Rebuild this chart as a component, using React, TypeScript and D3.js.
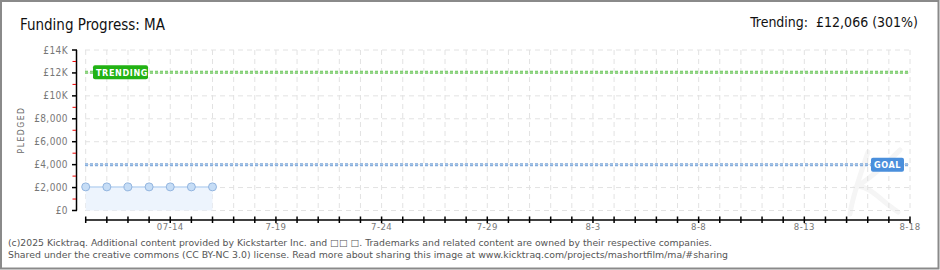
import React from "react";
import * as d3 from "d3";

const pledgeDates = ["2025-07-10", "2025-07-11", "2025-07-12", "2025-07-13", "2025-07-14", "2025-07-15", "2025-07-16"];
const pledgeValues = [2060, 2060, 2060, 2060, 2060, 2060, 2060];
const goalValue = 4000;
const trendingValue = 12066;
const startDate = "2025-07-10";
const endDate = "2025-08-18";
const xLabelDates = ["2025-07-14", "2025-07-19", "2025-07-24", "2025-07-29", "2025-08-03", "2025-08-08", "2025-08-13", "2025-08-18"];
const xLabelTexts = ["07-14", "7-19", "7-24", "7-29", "8-3", "8-8", "8-13", "8-18"];
const yTickValues = [0, 2000, 4000, 6000, 8000, 10000, 12000, 14000];
const yTickLabels = ["£0", "£2,000", "£4,000", "£6,000", "£8,000", "£10K", "£12K", "£14K"];
const yMinorValues = [1000, 3000, 5000, 7000, 9000, 11000, 13000];
const titleText = "Funding Progress: MA";
const trendText = "Trending:  £12,066 (301%)";
const footer1 = "(c)2025 Kicktraq. Additional content provided by Kickstarter Inc. and \u25A1\u25A1 \u25A1. Trademarks and related content are owned by their respective companies.";
const footer2 = "Shared under the creative commons (CC BY-NC 3.0) license. Read more about sharing this image at www.kicktraq.com/projects/mashortfilm/ma/#sharing";

const W = 940;
const H = 270;
const parse = d3.utcParse("%Y-%m-%d");

export default function App() {
  const x = d3.scaleUtc().domain([parse(startDate)!, parse(endDate)!]).range([85.7, 910]);
  const y = d3.scaleLinear().domain([0, 14000]).range([210.5, 50]);
  const days = d3.utcDay.range(parse(startDate)!, d3.utcDay.offset(parse(endDate)!, 1));
  const pts = pledgeDates.map((d, i) => ({ x: x(parse(d)!), y: y(pledgeValues[i]) }));
  const area = d3.area<{ x: number; y: number }>().x((d) => d.x).y0(y(0)).y1((d) => d.y);
  const line = d3.line<{ x: number; y: number }>().x((d) => d.x).y((d) => d.y);
  const font = "'DejaVu Sans Condensed', 'DejaVu Sans', sans-serif";
  const x0 = 85;
  const x1 = 910;

  return (
    <svg width={W} height={H} style={{ position: "absolute", left: 0, top: 0, background: "#fff" }} fontFamily={font}>
      <rect x={1} y={1} width={W - 2.5} height={H - 2.5} fill="#fff" stroke="#8a8a8a" strokeWidth={2} />
      {/* watermark (faint script K) */}
      <path d="M 868 152 C 860 175, 852 198, 850 214 M 900 150 C 885 165, 870 178, 858 186 C 872 188, 880 200, 898 212" fill="none" stroke="#f5f5f5" strokeWidth={5} strokeLinecap="round" />
      <text x={20} y={30} fontSize={15} fill="#111" style={{ fontStretch: "condensed" }}>{titleText}</text>
      <text x={918} y={27} fontSize={14} textAnchor="end" fill="#111" style={{ fontStretch: "condensed" }} xmlSpace="preserve">{trendText}</text>

      {/* grid */}
      {days.map((d, i) => (
        <line key={"vg" + i} x1={x(d)} x2={x(d)} y1={50} y2={210.5} stroke="#e2e2e2" strokeDasharray="5,4" />
      ))}
      {yTickValues.map((v, i) => (
        <line key={"hg" + i} x1={x0} x2={x1} y1={y(v)} y2={y(v)} stroke="#e2e2e2" strokeDasharray="5,4" />
      ))}

      {/* area + line */}
      <path d={area(pts) || ""} fill="#edf4fd" />
      <path d={line(pts) || ""} fill="none" stroke="#bcd6f2" strokeWidth={1.5} />

      {/* goal & trending lines */}
      <line x1={x0} x2={x1} y1={y(goalValue)} y2={y(goalValue)} stroke="#7fa8d8" strokeWidth={3} strokeDasharray="3,2" />
      <line x1={x0} x2={x1} y1={y(goalValue)} y2={y(goalValue)} stroke="#a9c7ea" strokeWidth={1} strokeDasharray="3,2" />
      <line x1={x0} x2={x1} y1={y(trendingValue)} y2={y(trendingValue)} stroke="#6fc660" strokeWidth={3} strokeDasharray="3,2" />
      <line x1={x0} x2={x1} y1={y(trendingValue)} y2={y(trendingValue)} stroke="#a5e09a" strokeWidth={1} strokeDasharray="3,2" />

      {/* points */}
      {pts.map((p, i) => (
        <circle key={"pt" + i} cx={p.x} cy={p.y} r={4} fill="#c6ddf6" stroke="#93b5df" strokeWidth={1} />
      ))}

      {/* labels */}
      <rect x={93} y={y(trendingValue) - 7} width={55} height={14} rx={2} fill="#22b214" />
      <text x={96} y={y(trendingValue) + 3.5} fontSize={9} fontWeight="bold" fill="#fff" letterSpacing={0.6}>TRENDING</text>
      <rect x={871} y={y(goalValue) - 7} width={33} height={14} rx={2} fill="#4a8fdc" />
      <text x={874} y={y(goalValue) + 3.5} fontSize={9} fontWeight="bold" fill="#fff" letterSpacing={0.6}>GOAL</text>

      {/* y axis */}
      <line x1={76.5} x2={76.5} y1={50} y2={210.5} stroke="#000" strokeWidth={1.5} />
      {yTickValues.map((v, i) => (
        <g key={"yt" + i}>
          <line x1={72} x2={77} y1={y(v)} y2={y(v)} stroke="#000" strokeWidth={1.5} />
          <text x={68} y={y(v) + 3.5} fontSize={10} textAnchor="end" fill="#777" letterSpacing={0.4}>{yTickLabels[i]}</text>
        </g>
      ))}
      {yMinorValues.map((v, i) => (
        <line key={"ym" + i} x1={72.5} x2={76} y1={y(v)} y2={y(v)} stroke="#e00" strokeWidth={1} />
      ))}
      <text transform="translate(24,130) rotate(-90)" textAnchor="middle" fontSize={8.5} fill="#666" letterSpacing={1.5}>PLEDGED</text>

      {/* x axis */}
      <line x1={x0} x2={x1} y1={220} y2={220} stroke="#000" strokeWidth={1.5} />
      {days.map((d, i) => (
        <line key={"xt" + i} x1={x(d)} x2={x(d)} y1={216.5} y2={223} stroke="#000" strokeWidth={1.5} />
      ))}
      {xLabelDates.map((d, i) => (
        <text key={"xl" + i} x={x(parse(d)!)} y={230} fontSize={9.5} textAnchor="middle" fill="#777" letterSpacing={0.4}>{xLabelTexts[i]}</text>
      ))}

      {/* footer */}
      <text x={8} y={246} fontSize={9.5} fill="#555" textLength={704} lengthAdjust="spacingAndGlyphs" fontFamily="'DejaVu Sans', sans-serif">{footer1}</text>
      <text x={8} y={258} fontSize={9.5} fill="#555" textLength={720} lengthAdjust="spacingAndGlyphs" fontFamily="'DejaVu Sans', sans-serif">{footer2}</text>
    </svg>
  );
}
